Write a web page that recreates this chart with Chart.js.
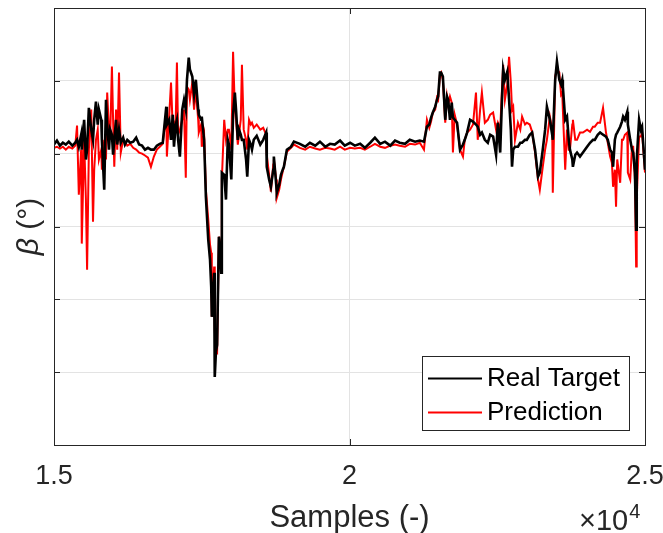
<!DOCTYPE html>
<html>
<head>
<meta charset="utf-8">
<script src="https://cdn.jsdelivr.net/npm/chart.js@4.4.1/dist/chart.umd.min.js"></script>
<style>
  html, body { margin: 0; padding: 0; background: #fff; }
  canvas { display: block; }
</style>
</head>
<body>
<canvas id="chart" width="663" height="533"></canvas>
<script>
// sample index (x axis)
const samples = [
  15000,15050,15100,15150,15200,15250,15310,15360,15390,15420,15460,15470,15510,15540,15560,15590,15630,15660,15680,15710,
  15740,15760,15800,15810,15850,15880,15900,15930,15950,15980,16000,16020,16050,16070,16100,16130,16170,16200,16240,16290,
  16340,16390,16440,16490,16540,16590,16640,16690,16740,16790,16840,16900,16910,16950,16980,17010,17030,17060,17080,17100,
  17130,17170,17200,17230,17250,17280,17300,17340,17370,17400,17440,17450,17490,17500,17540,17570,17610,17640,17660,17670,
  17710,17720,17740,17760,17790,17830,17840,17880,17910,17940,17960,18000,18030,18060,18080,18110,18130,18160,18180,18210,
  18250,18270,18300,18330,18350,18380,18430,18490,18540,18590,18600,18640,18670,18710,18720,18760,18770,18810,18840,18870,
  18890,18940,19010,19060,19160,19250,19330,19420,19500,19590,19670,19750,19840,19920,20010,20090,20180,20260,20350,20430,
  20520,20600,20690,20770,20850,20940,21020,21110,21190,21260,21310,21350,21380,21410,21450,21480,21500,21530,21550,21580,
  21620,21650,21670,21700,21730,21750,21780,21820,21870,21920,21950,21990,22040,22090,22140,22170,22210,22240,22290,22340,
  22380,22430,22480,22510,22550,22580,22600,22630,22670,22700,22730,22750,22770,22800,22850,22890,22920,22970,23000,23050,
  23090,23140,23190,23220,23270,23310,23340,23390,23430,23440,23480,23510,23550,23580,23600,23610,23650,23680,23710,23730,
  23770,23780,23820,23850,23900,23950,24020,24070,24120,24150,24200,24240,24290,24340,24370,24410,24440,24460,24490,24510,
  24530,24580,24610,24630,24660,24700,24710,24750,24780,24800,24830,24850,24860,24900,24930,24950,25000
];

// beta (deg), measured
const realTarget = [
  0.25,0.36,0.22,0.30,0.25,0.33,0.22,0.30,0.38,0.19,0.52,0.11,0.93,-0.16,0.11,1.26,0.66,0.38,0.93,1.43,
  0.80,1.21,0.93,0.38,-0.99,1.48,0.80,0.11,0.66,0.52,-0.03,0.38,0.93,0.25,0.66,0.30,0.44,0.25,0.38,0.30,
  0.33,0.44,0.25,0.22,0.11,0.16,0.11,0.11,0.22,0.27,0.30,1.29,0.80,0.93,0.38,1.07,0.19,0.80,0.93,0.38,
  -0.08,1.21,1.48,1.21,2.03,2.64,2.31,2.12,1.62,2.03,1.21,1.07,0.93,1.02,0.38,-1.18,-2.36,-2.91,-3.65,-4.48,
  -3.27,-6.13,-5.44,-5.25,-2.28,-3.27,-0.52,-0.58,-1.26,0.38,0.25,-0.71,1.07,1.68,1.21,0.38,0.66,0.52,0.38,0.38,
  -0.16,-0.63,0.38,0.25,0.11,0.38,0.49,0.25,0.38,0.58,-0.36,-0.71,-0.91,-0.44,-0.08,-0.85,-1.07,-0.85,-0.58,-0.44,
  -0.36,0.11,0.19,0.33,0.27,0.19,0.30,0.22,0.33,0.19,0.27,0.25,0.36,0.22,0.30,0.22,0.27,0.16,0.30,0.44,
  0.27,0.33,0.22,0.36,0.30,0.27,0.38,0.33,0.36,0.33,0.74,0.80,0.99,1.13,1.29,1.48,1.57,2.23,2.23,2.12,
  0.93,1.57,1.48,0.93,1.40,0.99,0.93,0.85,0.11,0.25,0.38,0.58,0.93,0.88,0.80,0.74,0.52,0.58,0.38,0.30,
  0.52,0.47,-0.03,0.85,0.03,1.48,2.31,2.03,2.25,1.48,0.66,-0.36,0.11,0.19,0.19,0.30,0.30,0.38,0.38,0.52,
  0.58,0.11,-0.63,-0.52,0.11,0.66,1.29,0.93,0.52,0.38,2.03,2.53,2.03,1.90,2.03,1.84,0.93,1.02,0.38,0.11,
  -0.16,-0.36,-0.03,0.03,-0.08,0.03,0.19,0.30,0.38,0.38,0.52,0.58,0.52,0.47,0.38,0.11,0.03,-0.36,0.38,0.52,
  0.58,0.74,0.88,1.02,0.93,1.15,0.80,0.38,0.11,0.03,-0.52,-2.09,-0.16,0.93,0.66,0.74,-0.44
];

// beta (deg), model output
const prediction = [
  0.16,0.19,0.14,0.19,0.11,0.19,0.14,0.22,0.77,-1.13,0.11,-2.47,0.38,-1.26,-3.19,0.11,1.21,-1.87,-0.44,0.38,
  0.66,-0.16,0.11,-0.44,0.38,-0.16,1.68,0.66,0.38,2.39,0.93,-0.36,1.21,0.11,2.23,0.03,0.38,0.33,0.22,0.27,
  0.16,0.11,0.03,0.00,-0.05,-0.11,-0.36,-0.08,0.11,0.19,0.27,1.13,-0.08,1.07,1.95,0.66,0.80,0.93,2.50,0.52,
  0.66,0.93,1.21,-0.66,1.84,1.76,1.48,1.95,1.21,1.76,0.93,0.58,0.80,0.19,0.52,-0.99,-1.81,-2.50,-2.72,-4.48,
  -3.10,-4.83,-5.44,-5.47,-2.28,-2.64,-0.71,0.93,0.38,0.66,0.66,0.11,2.80,1.21,0.93,0.25,0.52,0.93,2.44,0.66,
  0.38,0.11,0.93,0.80,0.85,0.71,0.80,0.66,0.71,0.52,-0.03,-0.58,-1.04,-0.30,-0.16,-0.71,-1.21,-0.99,-0.71,-0.49,
  -0.36,0.05,0.16,0.25,0.16,0.11,0.19,0.14,0.11,0.16,0.14,0.11,0.19,0.11,0.16,0.14,0.16,0.11,0.19,0.27,
  0.19,0.16,0.22,0.25,0.22,0.19,0.27,0.25,0.30,0.11,0.93,0.71,0.88,1.13,1.21,1.54,1.48,2.17,2.23,2.03,
  0.85,1.57,1.35,1.57,1.40,0.03,1.07,0.80,0.11,-0.08,0.38,0.58,0.66,0.80,1.68,0.38,1.21,1.68,0.85,0.93,
  1.07,1.13,0.66,0.85,0.66,1.76,2.44,1.48,1.90,2.66,1.95,1.21,1.29,0.38,0.85,0.66,1.02,0.80,0.85,0.80,
  0.60,0.03,-0.71,-0.99,-0.36,0.11,0.38,1.02,0.66,-1.07,2.12,2.31,2.23,1.62,1.68,1.21,-0.44,0.66,0.11,0.11,
  0.80,0.93,0.38,0.38,0.58,0.58,0.66,0.60,0.74,0.74,0.85,0.85,1.26,0.58,0.30,-0.08,-0.25,-0.91,-0.44,-1.46,
  -0.16,-0.80,0.38,0.38,0.52,0.58,-0.52,-0.71,0.19,0.19,-0.71,-3.10,-1.26,0.47,0.47,0.58,-0.52
];

const seriesLabels = ['Real Target', 'Prediction'];
const seriesColors = ['#000000', '#ff0000'];
const xTickValues = [15000, 20000, 25000];
const yTickValues = [-8, -6, -4, -2, 0, 2, 4];

const axisColor = '#262626';
const gridColor = '#e3e3e3';
const fontFamily = "'Liberation Sans', Arial, Helvetica, sans-serif";

function toPoints(xs, ys) {
  return xs.map((x, i) => ({ x: x, y: ys[i] }));
}

// MATLAB style frame: top/right edges, inward ticks, legend, labels
const matlabFrame = {
  id: 'matlabFrame',
  afterDraw(chart) {
    const ctx = chart.ctx;
    const a = chart.chartArea;
    const xs = chart.scales.x;
    const ys = chart.scales.y;
    const px = v => Math.round(v) + 0.5;
    const tickLen = 6;

    ctx.save();
    ctx.strokeStyle = axisColor;
    ctx.lineWidth = 1;
    ctx.beginPath();
    ctx.moveTo(px(a.left), px(a.top));
    ctx.lineTo(px(a.right), px(a.top));
    ctx.lineTo(px(a.right), px(a.bottom));
    ctx.lineTo(px(a.left), px(a.bottom));
    ctx.lineTo(px(a.left), px(a.top));
    xTickValues.forEach(v => {
      const x = px(xs.getPixelForValue(v));
      ctx.moveTo(x, a.bottom); ctx.lineTo(x, a.bottom - tickLen);
      ctx.moveTo(x, a.top); ctx.lineTo(x, a.top + tickLen);
    });
    yTickValues.forEach(v => {
      const y = px(ys.getPixelForValue(v));
      ctx.moveTo(a.left, y); ctx.lineTo(a.left + tickLen, y);
      ctx.moveTo(a.right, y); ctx.lineTo(a.right - tickLen, y);
    });
    ctx.stroke();

    // legend
    const lx = 422, ly = 356, lw = 207, lh = 74;
    ctx.fillStyle = '#ffffff';
    ctx.fillRect(lx, ly, lw, lh);
    ctx.strokeStyle = axisColor;
    ctx.strokeRect(lx + 0.5, ly + 0.5, lw, lh);
    ctx.font = '26px ' + fontFamily;
    ctx.textBaseline = 'middle';
    ctx.textAlign = 'left';
    chart.data.datasets.forEach((ds, i) => {
      const rowY = 378 + i * 34;
      ctx.strokeStyle = ds.borderColor;
      ctx.lineWidth = 2;
      ctx.beginPath();
      ctx.moveTo(428, rowY + 0.5);
      ctx.lineTo(482, rowY + 0.5);
      ctx.stroke();
      ctx.fillStyle = '#000000';
      ctx.fillText(ds.label, 487, rowY + 1);
    });

    // x axis title
    ctx.fillStyle = axisColor;
    ctx.textBaseline = 'alphabetic';
    ctx.textAlign = 'center';
    ctx.font = '31px ' + fontFamily;
    ctx.fillText('Samples (-)', (a.left + a.right) / 2, 527);

    // exponent
    ctx.textAlign = 'left';
    ctx.font = '29px ' + fontFamily;
    const base = '\u00d710';
    ctx.fillText(base, 579, 530);
    const wBase = ctx.measureText(base).width;
    ctx.font = '20px ' + fontFamily;
    ctx.fillText('4', 579 + wBase + 1, 518);

    // y axis title
    ctx.save();
    ctx.translate(30, (a.top + a.bottom) / 2);
    ctx.rotate(-Math.PI / 2);
    ctx.font = 'italic 30px ' + fontFamily;
    const wBeta = ctx.measureText('\u03b2').width;
    ctx.font = '30px ' + fontFamily;
    const wRest = ctx.measureText(' (\u00b0)').width;
    const start = -(wBeta + wRest) / 2;
    ctx.textBaseline = 'middle';
    ctx.font = 'italic 30px ' + fontFamily;
    ctx.fillText('\u03b2', start, 0);
    ctx.font = '30px ' + fontFamily;
    ctx.fillText(' (\u00b0)', start + wBeta, 0);
    ctx.restore();

    ctx.restore();
  }
};

new Chart(document.getElementById('chart').getContext('2d'), {
  type: 'line',
  data: {
    datasets: [
      {
        label: seriesLabels[0],
        data: toPoints(samples, realTarget),
        borderColor: seriesColors[0],
        borderWidth: 2.6,
        pointRadius: 0,
        tension: 0
      },
      {
        label: seriesLabels[1],
        data: toPoints(samples, prediction),
        borderColor: seriesColors[1],
        borderWidth: 2,
        pointRadius: 0,
        tension: 0
      }
    ]
  },
  options: {
    responsive: false,
    animation: false,
    layout: { padding: { top: 8, right: 18, left: 0, bottom: 0 } },
    plugins: {
      legend: { display: false },
      tooltip: { enabled: false }
    },
    scales: {
      x: {
        type: 'linear',
        min: 15000,
        max: 25000,
        afterBuildTicks: scale => { scale.ticks = xTickValues.map(v => ({ value: v })); },
        afterFit: scale => { scale.height = 88; scale.paddingLeft = 0; scale.paddingRight = 0; },
        grid: { color: gridColor, drawTicks: false },
        border: { display: true, color: axisColor },
        ticks: {
          padding: 15,
          maxRotation: 0,
          color: axisColor,
          font: { family: fontFamily, size: 27 },
          callback: v => String(v / 10000)
        }
      },
      y: {
        type: 'linear',
        min: -8,
        max: 4,
        afterBuildTicks: scale => { scale.ticks = yTickValues.map(v => ({ value: v })); },
        afterFit: scale => { scale.width = 54; scale.paddingTop = 0; scale.paddingBottom = 0; },
        grid: { color: gridColor, drawTicks: false },
        border: { display: true, color: axisColor },
        ticks: { display: false }
      }
    }
  },
  plugins: [matlabFrame]
});
</script>
</body>
</html>
